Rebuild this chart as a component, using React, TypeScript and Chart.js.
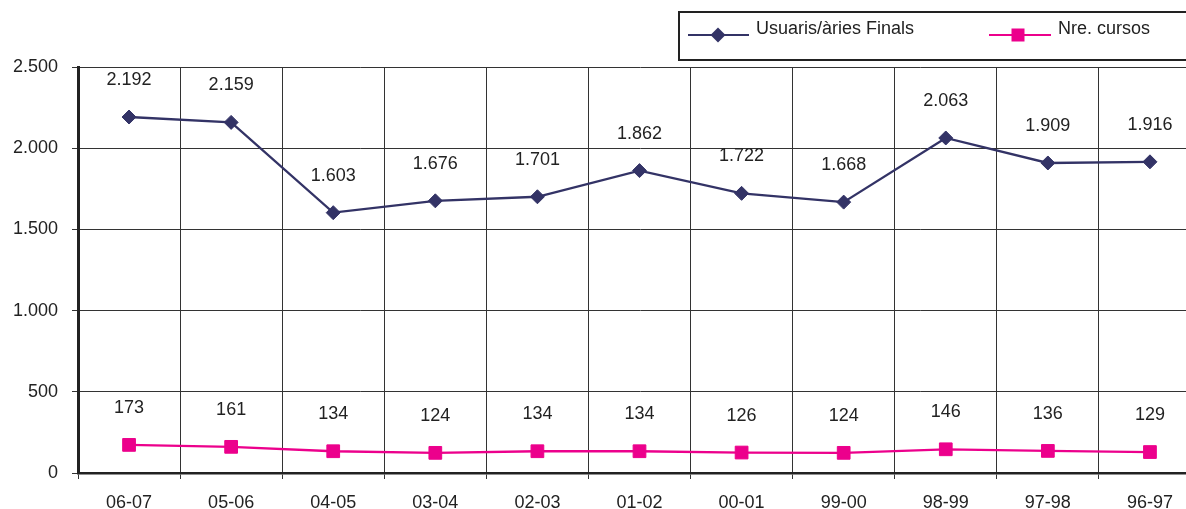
import React, { useEffect, useRef } from "react";
import { Chart, registerables } from "chart.js";

Chart.register(...registerables);

const categories = ["06-07", "05-06", "04-05", "03-04", "02-03", "01-02", "00-01", "99-00", "98-99", "97-98", "96-97"];
const usuarisFinals = [2192, 2159, 1603, 1676, 1701, 1862, 1722, 1668, 2063, 1909, 1916];
const nreCursos = [173, 161, 134, 124, 134, 134, 126, 124, 146, 136, 129];
const seriesNames = ["Usuaris/àries Finals", "Nre. cursos"];
const yTicks = [0, 500, 1000, 1500, 2000, 2500];

const NAVY = "#333366";
const MAGENTA = "#EC008C";
const FONT = "Liberation Sans, Arial, sans-serif";

const fmt = (v: number) => String(Math.round(v)).replace(/\B(?=(\d{3})+(?!\d))/g, ".");

const labelsPlugin = {
  id: "pointLabels",
  afterDatasetsDraw(chart: any) {
    const ctx = chart.ctx;
    ctx.save();
    ctx.font = `18px ${FONT}`;
    ctx.fillStyle = "#222";
    ctx.textAlign = "center";
    ctx.textBaseline = "middle";
    chart.data.datasets.forEach((ds: any, i: number) => {
      const meta = chart.getDatasetMeta(i);
      meta.data.forEach((pt: any, j: number) => {
        ctx.fillText(fmt(ds.data[j]), pt.x, pt.y - 37);
      });
    });
    ctx.restore();
  },
};

const legendPlugin = {
  id: "customLegend",
  afterDraw(chart: any) {
    const ctx = chart.ctx;
    ctx.save();
    ctx.strokeStyle = "#222";
    ctx.lineWidth = 2;
    ctx.strokeRect(679, 12, 560, 48);
    const y = 35;
    ctx.strokeStyle = NAVY;
    ctx.lineWidth = 2;
    ctx.beginPath();
    ctx.moveTo(688, y);
    ctx.lineTo(749, y);
    ctx.stroke();
    ctx.fillStyle = NAVY;
    ctx.beginPath();
    ctx.moveTo(718, y - 7.5);
    ctx.lineTo(725.5, y);
    ctx.lineTo(718, y + 7.5);
    ctx.lineTo(710.5, y);
    ctx.closePath();
    ctx.fill();
    ctx.strokeStyle = MAGENTA;
    ctx.beginPath();
    ctx.moveTo(989, y);
    ctx.lineTo(1051, y);
    ctx.stroke();
    ctx.fillStyle = MAGENTA;
    ctx.fillRect(1011.5, y - 6.5, 13, 13);
    ctx.fillStyle = "#222";
    ctx.font = `18px ${FONT}`;
    ctx.textAlign = "left";
    ctx.textBaseline = "alphabetic";
    ctx.fillText(seriesNames[0], 756, 34);
    ctx.fillText(seriesNames[1], 1058, 34);
    ctx.restore();
  },
};

export default function App() {
  const ref = useRef<HTMLCanvasElement>(null);
  useEffect(() => {
    if (!ref.current) return;
    const chart = new Chart(ref.current, {
      type: "line",
      data: {
        labels: categories,
        datasets: [
          {
            label: seriesNames[0],
            data: usuarisFinals,
            borderColor: NAVY,
            backgroundColor: NAVY,
            borderWidth: 2.3,
            pointStyle: "rectRot",
            pointRadius: 7,
            pointBorderWidth: 1,
            tension: 0,
          },
          {
            label: seriesNames[1],
            data: nreCursos,
            borderColor: MAGENTA,
            backgroundColor: MAGENTA,
            borderWidth: 2.3,
            pointStyle: "rect",
            pointRadius: 9,
            pointBorderWidth: 1,
            tension: 0,
          },
        ],
      },
      options: {
        responsive: false,
        animation: false,
        layout: { padding: { top: 67, left: 0, right: 0, bottom: 0 } },
        plugins: { legend: { display: false }, tooltip: { enabled: false } },
        scales: {
          x: {
            offset: true,
            grid: { offset: true, color: "#333", lineWidth: 1, tickLength: 6, drawTicks: true },
            border: { color: "#222", width: 2.5 },
            ticks: { color: "#222", font: { family: FONT, size: 18 }, padding: 13, maxRotation: 0, autoSkip: false },
            afterFit: (s: any) => { s.height = 36; },
          },
          y: {
            min: 0,
            max: 2500,
            afterBuildTicks: (s: any) => { s.ticks = yTicks.map((v) => ({ value: v })); },
            grid: { color: "#333", lineWidth: 1, tickLength: 6 },
            border: { color: "#222", width: 3 },
            ticks: { color: "#222", font: { family: FONT, size: 18 }, padding: 14, callback: (v: any) => fmt(Number(v)) },
            afterFit: (s: any) => { s.width = 78; },
          },
        },
      },
      plugins: [labelsPlugin, legendPlugin],
    });
    return () => chart.destroy();
  }, []);
  return (
    <div style={{ position: "absolute", left: 0, top: 0, width: 1186, height: 509, overflow: "hidden", background: "#fff" }}>
      <canvas ref={ref} width={1211} height={509} style={{ display: "block" }} />
    </div>
  );
}
